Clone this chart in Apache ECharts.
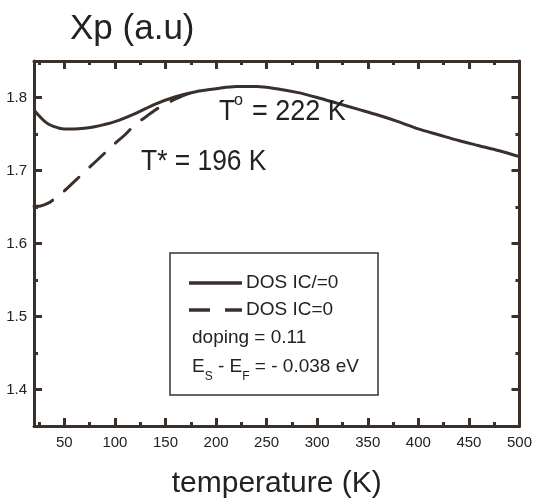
<!DOCTYPE html>
<html>
<head>
<meta charset="utf-8">
<script src="https://cdn.jsdelivr.net/npm/echarts@6/dist/echarts.min.js"></script>
<style>html,body{margin:0;padding:0;background:#fff;}#c{width:535px;height:504px;}</style>
</head>
<body>
<div id="c"></div>
<script>
// ---- data ----
var tempSolid = [20, 25, 30, 35, 40, 45, 50, 60, 70, 80, 100, 120, 140, 160, 180, 200, 220, 240, 260, 280, 300, 320, 340, 360, 380, 400, 420, 440, 460, 480, 500];
var xpSolid   = [1.783, 1.775, 1.768, 1.763, 1.760, 1.758, 1.757, 1.757, 1.758, 1.760, 1.767, 1.778, 1.791, 1.801, 1.808, 1.812, 1.815, 1.815, 1.812, 1.807, 1.800, 1.792, 1.784, 1.776, 1.767, 1.757, 1.749, 1.741, 1.734, 1.727, 1.719];
var tempDash  = [20, 25, 30, 35, 40, 50, 60, 70, 80, 90, 100, 110, 120, 130, 140, 150, 160, 170, 180];
var xpDash    = [1.651, 1.651, 1.653, 1.656, 1.661, 1.672, 1.685, 1.698, 1.711, 1.724, 1.737, 1.749, 1.763, 1.773, 1.783, 1.791, 1.798, 1.804, 1.808];
var xMajorTicks = [50, 100, 150, 200, 250, 300, 350, 400, 450, 500];
var xMinorTicks = [25, 75, 125, 175, 225, 275, 325, 375, 425, 475];
var yMajorTicks = [1.4, 1.5, 1.6, 1.7, 1.8];
var yMinorTicks = [1.35, 1.45, 1.55, 1.65, 1.75, 1.85];
var seriesNames = ['DOS IC/=0', 'DOS IC=0'];

var INK = '#3a302b';
var TXT = '#222';
var FONT = '"Liberation Sans", Arial, sans-serif';

function pair(a, b) { return a.map(function (v, i) { return [v, b[i]]; }); }

function xAx(pos, ticks, len, showLine, labels, extra) {
  var o = {
    type: 'value', min: 20, max: 500, position: pos,
    axisLine: { show: showLine, onZero: false, lineStyle: { color: INK, width: 3 } },
    axisTick: { show: true, inside: true, length: len, customValues: ticks, lineStyle: { color: INK, width: 3 } },
    axisLabel: labels ? { show: true, customValues: ticks, fontSize: 15, margin: 9, color: TXT, fontFamily: FONT } : { show: false },
    splitLine: { show: false }
  };
  if (extra) for (var k in extra) o[k] = extra[k];
  return o;
}
function yAx(pos, ticks, len, showLine, labels) {
  return {
    type: 'value', min: 1.35, max: 1.85, position: pos,
    axisLine: { show: showLine, onZero: false, lineStyle: { color: INK, width: 3 } },
    axisTick: { show: true, inside: true, length: len, customValues: ticks, lineStyle: { color: INK, width: 3 } },
    axisLabel: labels ? { show: true, customValues: ticks, fontSize: 15, margin: 7, color: TXT, fontFamily: FONT,
      formatter: function (v) { return v.toFixed(1); } } : { show: false },
    splitLine: { show: false }
  };
}

function txt(x, y, s, size, sx, z) {
  return { type: 'text', x: x, y: y, scaleX: sx || 1, z: z || 5,
    style: { text: s, font: size + 'px ' + FONT, fill: TXT, align: 'left', verticalAlign: 'top' } };
}

var chart = echarts.init(document.getElementById('c'), null, { renderer: 'canvas' });
chart.setOption({
  backgroundColor: '#fff',
  animation: false,
  title: { text: 'Xp (a.u)', left: 70, top: 12, padding: 0, textStyle: { fontSize: 35, fontWeight: 'normal', color: TXT, fontFamily: FONT } },
  grid: { left: 34, right: 13, top: 61, bottom: 77, containLabel: false },
  xAxis: [
    xAx('bottom', xMajorTicks, 8, true, true, { name: 'temperature (K)', nameLocation: 'middle', nameGap: 43,
      nameTextStyle: { fontSize: 30, color: TXT, fontFamily: FONT } }),
    xAx('bottom', xMinorTicks, 4, false, false),
    xAx('top', xMajorTicks, 8, true, false),
    xAx('top', xMinorTicks, 4, false, false)
  ],
  yAxis: [
    yAx('left', yMajorTicks, 8, true, true),
    yAx('left', yMinorTicks, 4, false, false),
    yAx('right', yMajorTicks, 8, true, false),
    yAx('right', yMinorTicks, 4, false, false)
  ],
  series: [
    { name: seriesNames[0], type: 'line', xAxisIndex: 0, yAxisIndex: 0, data: pair(tempSolid, xpSolid),
      smooth: 0.3, showSymbol: false, lineStyle: { color: INK, width: 3 }, z: 3 },
    { name: seriesNames[1], type: 'line', xAxisIndex: 0, yAxisIndex: 0, data: pair(tempDash, xpDash),
      smooth: 0.3, showSymbol: false, lineStyle: { color: INK, width: 3, type: [20, 15], cap: 'round' }, z: 3 }
  ],
  graphic: [
    txt(219, 97, 'T', 30, 0.88),
    txt(234, 92, 'o', 17, 0.95),
    txt(252, 97, '= 222 K', 30, 0.9),
    txt(141, 147, 'T* = 196 K', 30, 0.88),
    { type: 'rect', shape: { x: 170, y: 253, width: 208, height: 142 }, style: { fill: '#fff', stroke: INK, lineWidth: 1.5 }, z: 10 },
    { type: 'line', shape: { x1: 189, y1: 283, x2: 242, y2: 283 }, style: { stroke: INK, lineWidth: 3.5 }, z: 11 },
    txt(246, 273, seriesNames[0], 19, 1, 11),
    { type: 'line', shape: { x1: 189, y1: 310, x2: 210, y2: 310 }, style: { stroke: INK, lineWidth: 3.5 }, z: 11 },
    { type: 'line', shape: { x1: 225, y1: 310, x2: 242, y2: 310 }, style: { stroke: INK, lineWidth: 3.5 }, z: 11 },
    txt(246, 300, seriesNames[1], 19, 1, 11),
    txt(192, 328, 'doping = 0.11', 19, 1, 11),
    { type: 'text', x: 192, y: 357, z: 11, style: {
      text: '{n|E}{s|S}{n| - E}{s|F}{n| = - 0.038 eV}', fill: TXT, align: 'left', verticalAlign: 'top',
      rich: {
        n: { fontSize: 19, fontFamily: FONT, color: TXT, verticalAlign: 'top', lineHeight: 26 },
        s: { fontSize: 12, fontFamily: FONT, color: TXT, verticalAlign: 'bottom', lineHeight: 26 }
      } } }
  ]
});
</script>
</body>
</html>
